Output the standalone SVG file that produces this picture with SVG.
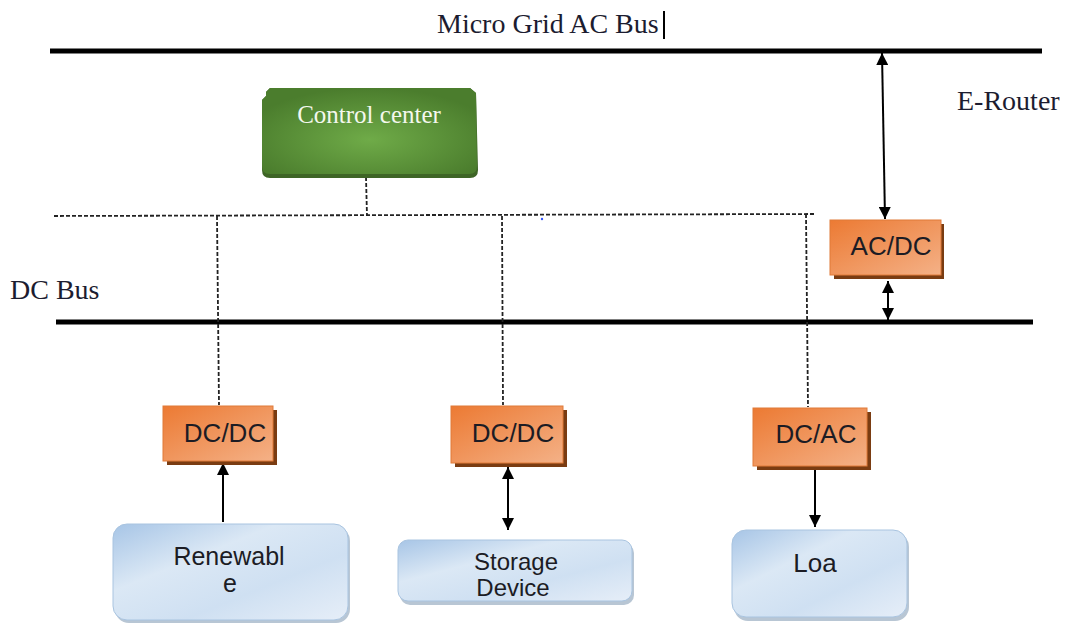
<svg xmlns="http://www.w3.org/2000/svg" width="1066" height="623" viewBox="0 0 1066 623">
<defs>
<style>
.serif{font-family:"Liberation Serif","Times New Roman",serif;fill:#1c1c30;}
.sans{font-family:"Liberation Sans",Arial,sans-serif;fill:#1c1c24;text-anchor:middle;font-size:26px;}
.bus{stroke:#000;stroke-width:5;stroke-linecap:butt;}
.dash{stroke:#222;stroke-width:1.8;stroke-dasharray:4 2;fill:none;}
.arr{stroke:#000;stroke-width:2;fill:none;}
.conv{fill:url(#orange);stroke:#e07b39;stroke-width:1;}
.convsh{fill:#7a3c12;}
.dev{fill:url(#blue);stroke:#a9c4e0;stroke-width:1;}
.devsh{fill:#b8c6d4;}
</style>
<linearGradient id="orange" x1="0" y1="0" x2="1" y2="1">
<stop offset="0" stop-color="#ec7a33"/>
<stop offset="1" stop-color="#f4b187"/>
</linearGradient>
<linearGradient id="blue" x1="0" y1="0" x2="1" y2="1">
<stop offset="0" stop-color="#a7c5e6"/>
<stop offset="0.35" stop-color="#dbe8f5"/>
<stop offset="0.65" stop-color="#cfe0f2"/>
<stop offset="1" stop-color="#e6eef8"/>
</linearGradient>
<radialGradient id="green" cx="0.5" cy="0.6" r="0.6">
<stop offset="0" stop-color="#6fab48"/>
<stop offset="1" stop-color="#4b7d2d"/>
</radialGradient>
<marker id="ah" viewBox="0 0 10 10" refX="10" refY="5" markerWidth="6" markerHeight="6" orient="auto-start-reverse" markerUnits="strokeWidth">
<path d="M0,0 L10,5 L0,10 z" fill="#000"/>
</marker>
</defs>
<rect width="1066" height="623" fill="#fff"/>

<g id="buses">
<line class="bus" x1="50" y1="51" x2="1042" y2="51"/>
<line class="bus" x1="56" y1="322" x2="1033" y2="322"/>
<text class="serif" x="437" y="33" font-size="28">Micro Grid AC Bus</text>
<line x1="664" y1="11" x2="664" y2="39" stroke="#000" stroke-width="2"/>
<text class="serif" x="10" y="299" font-size="28">DC Bus</text>
</g>

<g id="e-router-label">
<text class="serif" x="957" y="110" font-size="28">E-Router</text>
</g>

<g id="connectors">
<line class="dash" x1="54" y1="216" x2="815" y2="214"/>
<line class="dash" x1="366" y1="177" x2="367" y2="216"/>
<line class="dash" x1="217" y1="216" x2="219" y2="405"/>
<line class="dash" x1="502" y1="216" x2="503" y2="405"/>
<line class="dash" x1="806" y1="214" x2="808" y2="407"/>
<circle cx="542" cy="219" r="1.2" fill="#3355ff"/>
<line class="arr" x1="882" y1="53" x2="885" y2="219" marker-start="url(#ah)" marker-end="url(#ah)"/>
<line class="arr" x1="888" y1="281" x2="888" y2="320" marker-start="url(#ah)" marker-end="url(#ah)"/>
<line class="arr" x1="223" y1="522" x2="223" y2="463" marker-end="url(#ah)"/>
<line class="arr" x1="508" y1="467" x2="508" y2="530" marker-start="url(#ah)" marker-end="url(#ah)"/>
<line class="arr" x1="815" y1="467" x2="815" y2="527" marker-end="url(#ah)"/>
</g>

<g id="control-center">
<path d="M266,92 L270,88 L470,88 L476,93 L478,170 Q478,178 470,178 L270,178 Q262,178 262,170 L262,100 L266,96 z" fill="#3e6526"/>
<path d="M266,92 L270,88 L470,88 L476,93 L477,166 Q477,174 469,174 L270,174 Q262,174 262,166 L262,100 L266,96 z" fill="url(#green)"/>
<text class="serif" x="369" y="123" font-size="25" text-anchor="middle" style="fill:#f4f8ee">Control center</text>
</g>

<g id="ac-dc">
<rect class="convsh" x="834" y="224" width="110" height="55"/>
<rect class="conv" x="830" y="220" width="111" height="55"/>
<text class="sans" x="891" y="255">AC/DC</text>
</g>

<g id="dc-dc-1">
<rect class="convsh" x="167" y="410" width="110" height="55"/>
<rect class="conv" x="163" y="406" width="110" height="55"/>
<text class="sans" x="225" y="442">DC/DC</text>
</g>

<g id="dc-dc-2">
<rect class="convsh" x="455" y="410" width="112" height="57"/>
<rect class="conv" x="451" y="406" width="112" height="57"/>
<text class="sans" x="513" y="442">DC/DC</text>
</g>

<g id="dc-ac">
<rect class="convsh" x="757" y="412" width="114" height="58"/>
<rect class="conv" x="753" y="408" width="114" height="58"/>
<text class="sans" x="816" y="443">DC/AC</text>
</g>

<g id="renewable">
<rect class="devsh" x="115" y="527" width="235" height="96" rx="14"/>
<rect class="dev" x="113" y="524" width="235" height="96" rx="14"/>
<text class="sans" x="229" y="565" style="font-size:25px">Renewabl</text>
<text class="sans" x="230" y="592" style="font-size:25px">e</text>
</g>

<g id="storage">
<rect class="devsh" x="400" y="543" width="234" height="62" rx="10"/>
<rect class="dev" x="398" y="540" width="234" height="61" rx="10"/>
<text class="sans" x="516" y="570" style="font-size:24px">Storage</text>
<text class="sans" x="513" y="596" style="font-size:24px">Device</text>
</g>

<g id="load">
<rect class="devsh" x="734" y="533" width="175" height="88" rx="14"/>
<rect class="dev" x="732" y="530" width="175" height="87" rx="14"/>
<text class="sans" x="815" y="572">Loa</text>
</g>
</svg>
